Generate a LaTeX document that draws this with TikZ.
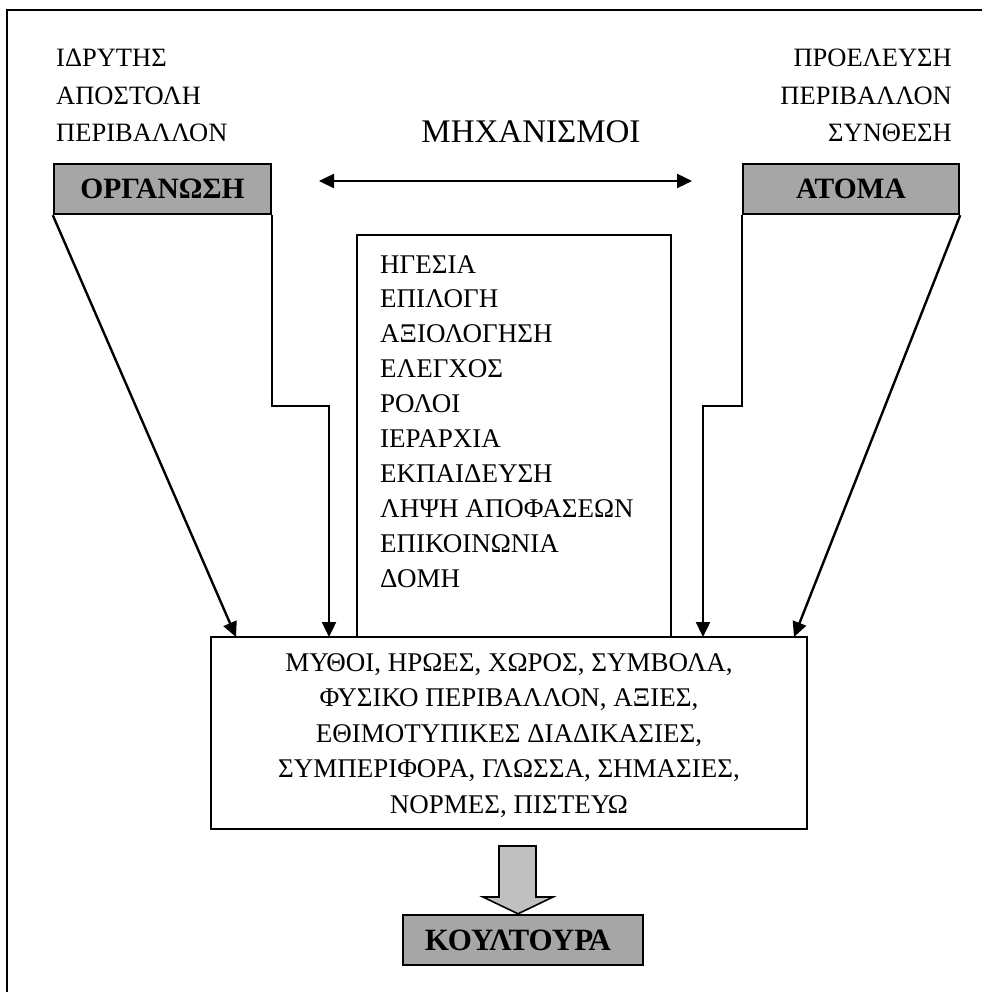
\documentclass[tikz,border=0pt]{standalone}
\usepackage{fontspec}
\setmainfont{Liberation Serif}
\usetikzlibrary{arrows.meta}
\definecolor{boxgray}{RGB}{166,166,166}
\definecolor{arrgray}{RGB}{192,192,192}
\tikzset{headtip/.tip={Triangle[length=15pt,width=14pt]}}
\begin{document}
\begin{tikzpicture}[x=1pt,y=-1pt,
  line width=2.4pt,
  txt/.style={font=\fontsize{27}{31}\selectfont, inner sep=0pt},
  toptxt/.style={font=\fontsize{26.5}{30}\selectfont, inner sep=0pt},
  headbox/.style={draw, fill=boxgray, minimum height=50pt, inner sep=0pt,
    font=\fontsize{29.5}{32}\selectfont\bfseries},
  conn/.style={-{headtip}},
]
\useasboundingbox (0,0) rectangle (982,992);

% frame
\draw[line width=2.2pt] (7,992) -- (7,10) -- (982,10);

% sources of the two inputs
\foreach \t [count=\i from 0] in {ΙΔΡΥΤΗΣ, ΑΠΟΣΤΟΛΗ, ΠΕΡΙΒΑΛΛΟΝ}
  \node[toptxt, anchor=base west] (orgattr-\i) at (55, 67+\i*37.5) {\t};
\foreach \t [count=\i from 0] in {ΠΡΟΕΛΕΥΣΗ, ΠΕΡΙΒΑΛΛΟΝ, ΣΥΝΘΕΣΗ}
  \node[toptxt, anchor=base east] (atattr-\i) at (953, 67+\i*37.5) {\t};

\node[txt, anchor=base, font=\fontsize{33}{36}\selectfont] (mechtitle) at (531,143) {ΜΗΧΑΝΙΣΜΟΙ};

\node[headbox, minimum width=217pt] (org) at (162.5,189) {ΟΡΓΑΝΩΣΗ};
\node[headbox, minimum width=216pt] (atoma) at (851,189) {ΑΤΟΜΑ};

% mechanisms column
\node[draw, minimum width=314pt, minimum height=402pt, inner sep=0pt] (mech) at (514,436) {};
\foreach \t [count=\i from 0] in {ΗΓΕΣΙΑ, ΕΠΙΛΟΓΗ, ΑΞΙΟΛΟΓΗΣΗ, ΕΛΕΓΧΟΣ, ΡΟΛΟΙ,
    ΙΕΡΑΡΧΙΑ, ΕΚΠΑΙΔΕΥΣΗ, ΛΗΨΗ ΑΠΟΦΑΣΕΩΝ, ΕΠΙΚΟΙΝΩΝΙΑ, ΔΟΜΗ}
  \node[txt, anchor=base west] (mech-\i) at (379, 273+\i*34.9) {\t};

% elements of culture
\node[draw, fill=white, minimum width=596pt, minimum height=192pt, inner sep=0pt] (low) at (509,733) {};
\foreach \t [count=\i from 0] in {{ΜΥΘΟΙ, ΗΡΩΕΣ, ΧΩΡΟΣ, ΣΥΜΒΟΛΑ,},
    {ΦΥΣΙΚΟ ΠΕΡΙΒΑΛΛΟΝ, ΑΞΙΕΣ,}, {ΕΘΙΜΟΤΥΠΙΚΕΣ ΔΙΑΔΙΚΑΣΙΕΣ,},
    {ΣΥΜΠΕΡΙΦΟΡΑ, ΓΛΩΣΣΑ, ΣΗΜΑΣΙΕΣ,}, {ΝΟΡΜΕΣ, ΠΙΣΤΕΥΩ}}
  \node[txt, anchor=base] (low-\i) at (509, 671+\i*35.5) {\t};

\node[headbox, minimum width=240pt, font=\fontsize{31}{34}\selectfont\bfseries]
  (kult) at (523,940) {\hspace*{-10pt}ΚΟΥΛΤΟΥΡΑ};

% block arrow to culture
\draw[fill=arrgray, line width=1.6pt, line join=miter]
  (499,846) -- (536,846) -- (536,897) -- (553,897) -- (kult.north -| 518,0)
  -- (483,897) -- (499,897) -- cycle;

% connectors
\coordinate (inA) at (236,637);
\coordinate (inB) at (329,637);
\coordinate (inC) at (703,637);
\coordinate (inD) at (794,637);
\coordinate (elA) at (329,406);
\coordinate (elB) at (703,406);
\coordinate (dl) at (319,181);
\coordinate (dr) at (692,181);

\draw[conn] (org.south west) -- (inA);
\draw[conn] (org.south east) |- (elA) -- (inB);
\draw[conn] (atoma.south west) |- (elB) -- (inC);
\draw[conn] (atoma.south east) -- (inD);
\draw[{headtip}-{headtip}] (dl) -- (dr);
\end{tikzpicture}
\end{document}
